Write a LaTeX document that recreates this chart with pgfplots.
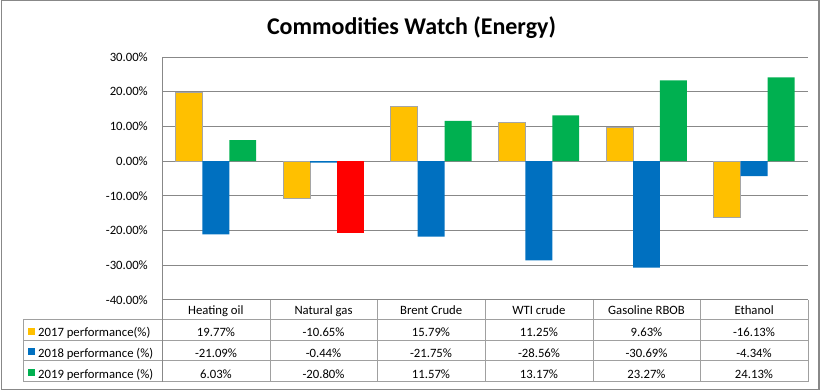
\documentclass[border=0pt]{standalone}
\usepackage{pgfplots}
\pgfplotsset{compat=1.18}
\usepackage{pgfplotstable}
\usepackage{fontspec}
\setmainfont{Carlito}
\definecolor{cy}{HTML}{FFC000}
\definecolor{cb}{HTML}{0070C0}
\definecolor{cg}{HTML}{00B050}
\definecolor{cr}{HTML}{FF0000}
\definecolor{cgrid}{HTML}{888888}
\definecolor{ctab}{HTML}{A0A0A0}
\definecolor{cedge}{HTML}{A5A5A5}

\pgfplotstableread{
x y17 y18
0 19.77 -21.09
1 -10.65 -0.44
2 15.79 -21.75
3 11.25 -28.56
4 9.63 -30.69
5 -16.13 -4.34
}\data

\begin{document}
\begin{tikzpicture}
\useasboundingbox (0,0) rectangle (823bp,390bp);
\fontsize{12.7bp}{15bp}\selectfont
\begin{axis}[
  at={(162bp,90bp)}, anchor=south west,
  width=646bp, height=243bp, scale only axis,
  xmin=-0.5, xmax=5.5, ymin=-40, ymax=30,
  ytick={-40,-30,...,30},
  yticklabel={\pgfmathprintnumber[assume math mode=true,fixed,fixed zerofill,precision=2]{\tick}\%},
  yticklabel style={font=\fontsize{12.7bp}{15bp}\selectfont, inner sep=0pt, anchor=east, xshift=-14bp},
  xtick={0,...,5},
  xticklabels={Heating oil, Natural gas, Brent Crude, WTI crude, Gasoline RBOB, Ethanol},
  xticklabel style={font=\fontsize{12.7bp}{15bp}\selectfont, inner sep=0pt, anchor=base, yshift=-15bp},
  major tick length=0pt,
  axis lines*=left,
  x axis line style={draw=none},
  y axis line style={draw=cgrid, line width=1bp, -},
  ymajorgrids,
  grid style={draw=cgrid, line width=1bp},
  clip=false,
]
\addplot[ybar, bar width=26.9bp, bar shift=-26.9bp, fill=cy, draw=cedge, line width=0.8bp] table[x=x, y=y17] {\data};
\addplot[ybar, bar width=26.9bp, bar shift=0bp, fill=cb, draw=none] table[x=x, y=y18] {\data};
\addplot[ybar, bar width=26.9bp, bar shift=26.9bp, fill=cg, draw=none] coordinates {(0,6.03) (2,11.57) (3,13.17) (4,23.27) (5,24.13)};
\addplot[ybar, bar width=26.9bp, bar shift=26.9bp, fill=cr, draw=none] coordinates {(1,-20.80)};
\end{axis}

% title
\node[anchor=base, font=\fontsize{24bp}{28bp}\selectfont\bfseries] at (411.5bp,355bp) {Commodities Watch (Energy)};

% data table lines
\begin{scope}[draw=ctab, line width=1bp]
\foreach \y in {70,49.5,29,8} \draw (23bp,\y bp) -- (808bp,\y bp);
\draw (23bp,70bp) -- (23bp,8bp);
\draw[cgrid] (162bp,90bp) -- (162bp,8bp);
\foreach \x in {270,377.5,485,593,700.5,808} \draw (\x bp,90bp) -- (\x bp,8bp);
\end{scope}

% legend keys and row labels
\fill[cy] (27.5bp,54.5bp) rectangle (34.5bp,61.5bp);
\fill[cb] (27.5bp,34.5bp) rectangle (34.5bp,41.5bp);
\fill[cg] (27.5bp,14bp) rectangle (34.5bp,21bp);
\node[anchor=base west, inner sep=0pt] at (38bp,53bp) {2017 performance(\%)};
\node[anchor=base west, inner sep=0pt] at (38bp,32.5bp) {2018 performance (\%)};
\node[anchor=base west, inner sep=0pt] at (38bp,12bp) {2019 performance (\%)};

% table values
\foreach \x/\a/\b/\c in {216/19.77\%/-21.09\%/6.03\%, 323.5/-10.65\%/-0.44\%/-20.80\%, 431/15.79\%/-21.75\%/11.57\%, 539/11.25\%/-28.56\%/13.17\%, 646.5/9.63\%/-30.69\%/23.27\%, 754/-16.13\%/-4.34\%/24.13\%}{
  \node[anchor=base, inner sep=0pt] at (\x bp,53bp) {\a};
  \node[anchor=base, inner sep=0pt] at (\x bp,32.5bp) {\b};
  \node[anchor=base, inner sep=0pt] at (\x bp,12bp) {\c};
}

% outer border
\draw[cgrid, line width=1.2bp] (1.5bp,0.8bp) rectangle (819bp,389.3bp);
\end{tikzpicture}
\end{document}
